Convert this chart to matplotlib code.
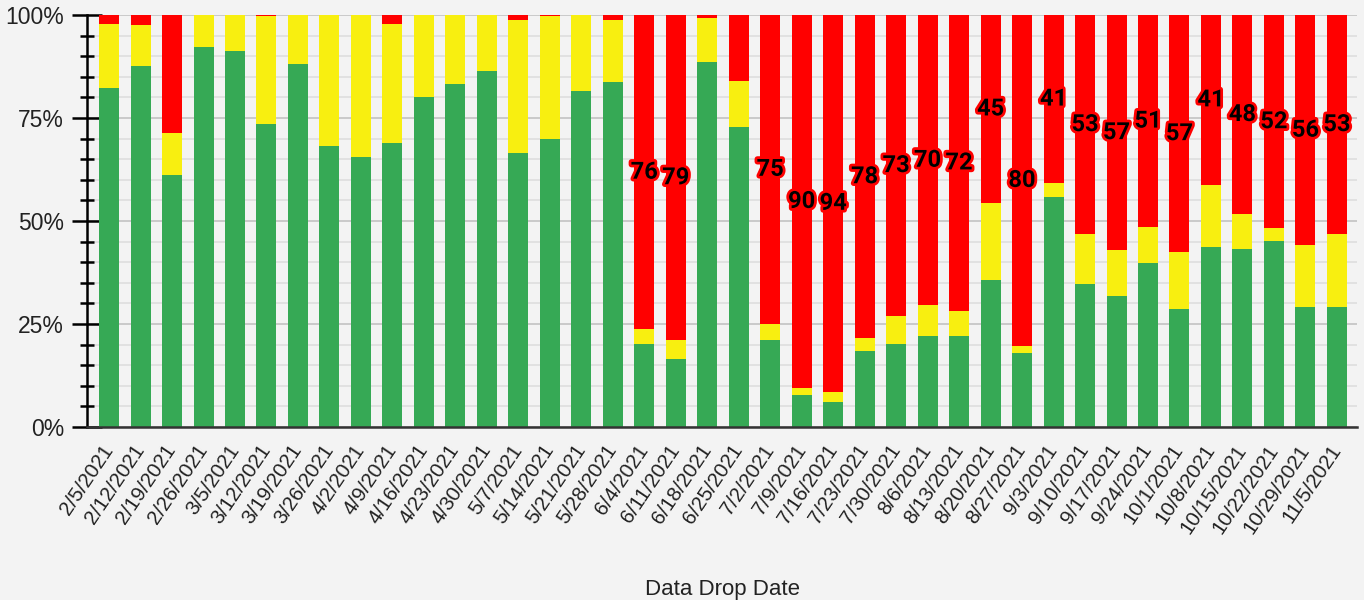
import matplotlib
matplotlib.use("Agg")
from matplotlib import pyplot as plt
from matplotlib.ticker import MultipleLocator, FuncFormatter
import matplotlib.patheffects as pe
import numpy as np

dates = ["2/5/2021", "2/12/2021", "2/19/2021", "2/26/2021", "3/5/2021", "3/12/2021",
         "3/19/2021", "3/26/2021", "4/2/2021", "4/9/2021", "4/16/2021", "4/23/2021",
         "4/30/2021", "5/7/2021", "5/14/2021", "5/21/2021", "5/28/2021", "6/4/2021",
         "6/11/2021", "6/18/2021", "6/25/2021", "7/2/2021", "7/9/2021", "7/16/2021",
         "7/23/2021", "7/30/2021", "8/6/2021", "8/13/2021", "8/20/2021", "8/27/2021",
         "9/3/2021", "9/10/2021", "9/17/2021", "9/24/2021", "10/1/2021", "10/8/2021",
         "10/15/2021", "10/22/2021", "10/29/2021", "11/5/2021"]

green = [82.4, 87.6, 61.1, 92.2, 91.3, 73.5, 88.2, 68.2, 65.5, 69.0, 80.1, 83.3,
         86.3, 66.4, 69.9, 81.6, 83.7, 20.2, 16.6, 88.6, 72.7, 21.0, 7.7, 6.0,
         18.4, 20.2, 22.0, 22.0, 35.8, 18.0, 55.8, 34.8, 31.7, 39.7, 28.6, 43.7,
         43.3, 45.1, 29.1, 29.1]
yellow = [15.5, 9.9, 10.2, 7.8, 8.7, 26.3, 11.8, 31.8, 34.5, 28.9, 19.9, 16.7,
          13.7, 32.4, 29.8, 18.4, 15.1, 3.5, 4.4, 10.7, 11.4, 4.1, 1.8, 2.6,
          3.1, 6.7, 7.5, 6.2, 18.6, 1.7, 3.4, 12.0, 11.2, 8.8, 13.8, 15.1,
          8.4, 3.1, 15.0, 17.7]
red = [2.1, 2.5, 28.7, 0.0, 0.0, 0.2, 0.0, 0.0, 0.0, 2.1, 0.0, 0.0,
       0.0, 1.2, 0.3, 0.0, 1.2, 76.3, 79.0, 0.7, 15.9, 74.9, 90.5, 91.4,
       78.5, 73.1, 70.5, 71.8, 45.6, 80.3, 40.8, 53.2, 57.1, 51.5, 57.6, 41.2,
       48.3, 51.8, 55.9, 53.2]
# numbers printed on the red segments ('' = no label)
red_labels = ['', '', '', '', '', '', '', '', '', '', '', '',
              '', '', '', '', '', '76', '79', '', '', '75', '90', '94',
              '78', '73', '70', '72', '45', '80', '41', '53', '57', '51', '57', '41',
              '48', '52', '56', '53']

plt.rcParams['font.family'] = ['Liberation Sans', 'DejaVu Sans']

bg = '#f3f3f3'
fig = plt.figure(figsize=(13.64, 6.0), dpi=100, facecolor=bg)
ax = fig.add_axes([0.0638, 0.2883, 0.9311, 0.6867], facecolor=bg)

x = np.arange(len(dates))
g = np.array(green)
yl = np.array(yellow)
r = np.array(red)
w = 0.635
ax.bar(x, g, w, color='#36a955', zorder=3)
ax.bar(x, yl, w, bottom=g, color='#f8ef10', zorder=3)
ax.bar(x, r, w, bottom=g + yl, color='#ff0000', zorder=3)

for i, lab in enumerate(red_labels):
    if lab:
        yc = g[i] + yl[i] + r[i] / 2
        ax.text(x[i], yc, lab, ha='center', va='center', fontsize=17,
                fontweight='bold', family=['Roboto', 'DejaVu Sans'], color='black', zorder=5,
                path_effects=[pe.withStroke(linewidth=4, foreground='#ff0000')])

ax.set_ylim(0, 100)
ax.set_xlim(-0.7, 39.64)
ax.yaxis.set_major_locator(MultipleLocator(25))
ax.yaxis.set_minor_locator(MultipleLocator(5))
ax.yaxis.set_major_formatter(FuncFormatter(lambda v, p: f"{v:.0f}%"))
ax.grid(axis='y', which='major', color='#c6c6c6', linewidth=1.3, zorder=0)
ax.grid(axis='y', which='minor', color='#e0e0e0', linewidth=1.3, zorder=0)
ax.tick_params(axis='y', which='major', direction='inout', length=21, width=1.8,
               labelsize=16.5, pad=6, color='black', labelcolor='#222222')
ax.tick_params(axis='y', which='minor', direction='inout', length=10, width=1.8, color='black')

ax.set_xticks(x)
ax.set_xticklabels(dates, rotation=56, ha='right', va='center',
                   rotation_mode='anchor', fontsize=14.8, color='#222222')
ax.tick_params(axis='x', length=0, pad=14)
ax.set_xlabel("Data Drop Date", fontsize=16, labelpad=30, color='#222222')

for s in ['top', 'right']:
    ax.spines[s].set_visible(False)
ax.spines['left'].set_linewidth(1.8)
ax.spines['left'].set_color('black')
ax.spines['bottom'].set_linewidth(1.8)
ax.spines['bottom'].set_color('#333333')
ax.spines['left'].set_zorder(4)
ax.spines['bottom'].set_zorder(4)

fig.savefig("out.png", dpi=100, facecolor=bg)
